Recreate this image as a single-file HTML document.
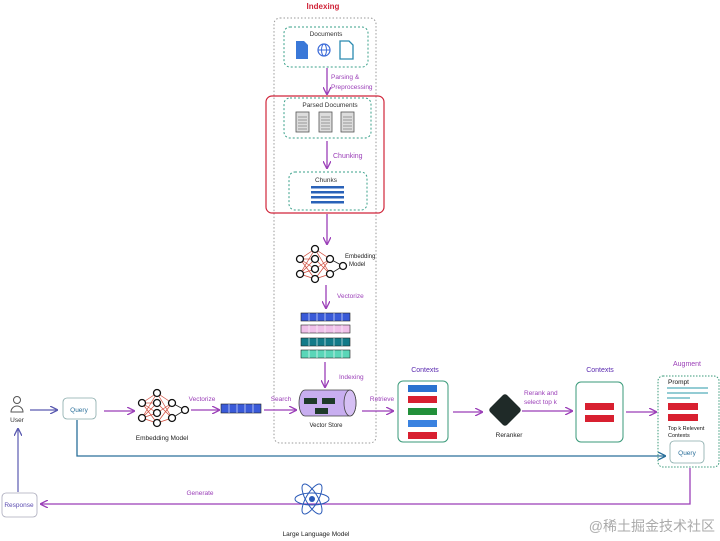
<!DOCTYPE html>
<html><head><meta charset="utf-8"><style>
html,body{margin:0;padding:0;background:#fff;width:720px;height:541px;overflow:hidden}
text{font-family:"Liberation Sans","Noto Sans CJK SC",sans-serif}
</style></head><body>
<svg width="720" height="541" viewBox="0 0 720 541" xmlns="http://www.w3.org/2000/svg">
<defs>
<marker id="ap" markerWidth="8" markerHeight="8" refX="7" refY="4" orient="auto" markerUnits="userSpaceOnUse"><path d="M0,0 L8,4 L0,8" fill="none" stroke="#9b3fb8" stroke-width="1.3"/></marker>
<marker id="ab" markerWidth="8" markerHeight="8" refX="7" refY="4" orient="auto" markerUnits="userSpaceOnUse"><path d="M0,0 L8,4 L0,8" fill="none" stroke="#2a6f9a" stroke-width="1.3"/></marker>
<marker id="au" markerWidth="8" markerHeight="8" refX="7" refY="4" orient="auto" markerUnits="userSpaceOnUse"><path d="M0,0 L8,4 L0,8" fill="none" stroke="#5a5ab0" stroke-width="1.3"/></marker>
<g id="net">
<g stroke="#d04a3a" stroke-width="0.7">
<line x1="0" y1="10" x2="15" y2="0"/><line x1="0" y1="10" x2="15" y2="10"/><line x1="0" y1="10" x2="15" y2="20"/><line x1="0" y1="10" x2="15" y2="30"/>
<line x1="0" y1="25" x2="15" y2="0"/><line x1="0" y1="25" x2="15" y2="10"/><line x1="0" y1="25" x2="15" y2="20"/><line x1="0" y1="25" x2="15" y2="30"/>
<line x1="15" y1="0" x2="30" y2="10"/><line x1="15" y1="10" x2="30" y2="25"/><line x1="15" y1="20" x2="30" y2="10"/><line x1="15" y1="30" x2="30" y2="25"/><line x1="15" y1="0" x2="30" y2="25"/><line x1="15" y1="30" x2="30" y2="10"/>
</g>
<g stroke="#222" stroke-width="0.8"><line x1="30" y1="10" x2="43" y2="17"/><line x1="30" y1="25" x2="43" y2="17"/></g>
<g fill="#fff" stroke="#111" stroke-width="1.3">
<circle cx="0" cy="10" r="3.5"/><circle cx="0" cy="25" r="3.5"/>
<circle cx="15" cy="0" r="3.5"/><circle cx="15" cy="10" r="3.5"/><circle cx="15" cy="20" r="3.5"/><circle cx="15" cy="30" r="3.5"/>
<circle cx="30" cy="10" r="3.5"/><circle cx="30" cy="25" r="3.5"/><circle cx="43" cy="17" r="3.5"/></g>
</g>
</defs>

<text x="323" y="9" font-size="8" fill="#d0253a" text-anchor="middle" font-weight="bold">Indexing</text>
<rect x="274" y="18" width="102" height="425" rx="6" fill="none" stroke="#999" stroke-dasharray="1.5,2"/>

<rect x="284" y="27" width="84" height="40" rx="6" fill="none" stroke="#3aa08a" stroke-dasharray="2,2"/>
<text x="326" y="36" font-size="6.5" fill="#333" text-anchor="middle">Documents</text>
<path d="M296,41 h8 l4,4 v14 h-12z" fill="#3a78d8"/>
<circle cx="324" cy="50" r="6" fill="none" stroke="#3a6ad8" stroke-width="1.2"/>
<line x1="318" y1="50" x2="330" y2="50" stroke="#3a6ad8"/><ellipse cx="324" cy="50" rx="2.5" ry="6" fill="none" stroke="#3a6ad8"/>
<path d="M340,41 h9 l4,4 v14 h-13z" fill="none" stroke="#2a8ab0" stroke-width="1.3"/>

<line x1="327" y1="68" x2="327" y2="94" stroke="#9b3fb8" stroke-width="1.3" marker-end="url(#ap)"/>
<text x="331" y="79" font-size="6.5" fill="#9b3fb8">Parsing &amp;</text>
<text x="331" y="89" font-size="6.5" fill="#9b3fb8">Preprocessing</text>

<rect x="266" y="96" width="118" height="117" rx="6" fill="none" stroke="#d0253a" stroke-width="1.2"/>
<rect x="284" y="98" width="87" height="40" rx="6" fill="none" stroke="#3aa08a" stroke-dasharray="2,2"/>
<text x="330" y="107" font-size="6.5" fill="#333" text-anchor="middle">Parsed Documents</text>
<g fill="#ddd" stroke="#555" stroke-width="0.8">
<rect x="296" y="112" width="13" height="20"/><rect x="319" y="112" width="13" height="20"/><rect x="341" y="112" width="13" height="20"/></g>
<g stroke="#555" stroke-width="0.6">
<path d="M298,117h9M298,120h9M298,123h9M298,126h9M298,129h9"/>
<path d="M321,117h9M321,120h9M321,123h9M321,126h9M321,129h9"/>
<path d="M343,117h9M343,120h9M343,123h9M343,126h9M343,129h9"/></g>

<line x1="327" y1="141" x2="327" y2="168" stroke="#9b3fb8" stroke-width="1.3" marker-end="url(#ap)"/>
<text x="333" y="158" font-size="7" fill="#9b3fb8">Chunking</text>

<rect x="289" y="172" width="78" height="38" rx="6" fill="none" stroke="#3aa08a" stroke-dasharray="2,2"/>
<text x="326" y="182" font-size="6.5" fill="#333" text-anchor="middle">Chunks</text>
<g fill="#2a62b8"><rect x="311" y="186" width="33" height="2.5"/><rect x="311" y="191" width="33" height="2.5"/><rect x="311" y="196" width="33" height="2.5"/><rect x="311" y="201" width="33" height="2.5"/></g>

<line x1="327" y1="214" x2="327" y2="244" stroke="#9b3fb8" stroke-width="1.3" marker-end="url(#ap)"/>
<use href="#net" x="300" y="249"/>
<text x="345" y="258" font-size="6" fill="#222">Embedding</text>
<text x="349" y="266" font-size="6" fill="#222">Model</text>

<line x1="326" y1="285" x2="326" y2="308" stroke="#9b3fb8" stroke-width="1.3" marker-end="url(#ap)"/>
<text x="337" y="298" font-size="6.5" fill="#9b3fb8">Vectorize</text>

<g stroke="#222" stroke-width="0.6">
<rect x="301" y="313" width="49" height="8" fill="#3a5ad8"/>
<rect x="301" y="325" width="49" height="8" fill="#f0c0ea"/>
<rect x="301" y="338" width="49" height="8" fill="#137a88"/>
<rect x="301" y="350" width="49" height="8" fill="#5ad6b8"/>
<path d="M309,313v8M317,313v8M325,313v8M334,313v8M342,313v8M309,325v8M317,325v8M325,325v8M334,325v8M342,325v8M309,338v8M317,338v8M325,338v8M334,338v8M342,338v8M309,350v8M317,350v8M325,350v8M334,350v8M342,350v8" stroke="#fff"/>
</g>

<line x1="325" y1="362" x2="325" y2="387" stroke="#9b3fb8" stroke-width="1.3" marker-end="url(#ap)"/>
<text x="339" y="379" font-size="6.5" fill="#9b3fb8">Indexing</text>

<path d="M305,390 h45 a6,13 0 0 1 0,26 h-45 a6,13 0 0 1 0,-26z" fill="#c8aef0" stroke="#444" stroke-width="0.8"/>
<ellipse cx="350" cy="403" rx="6" ry="13" fill="#d6c0f4" stroke="#444" stroke-width="0.8"/>
<rect x="304" y="398" width="13" height="6" fill="#1e3a2a"/><rect x="322" y="398" width="13" height="6" fill="#1e3a2a"/><rect x="315" y="408" width="13" height="6" fill="#1e3a2a"/>
<text x="326" y="427" font-size="6" fill="#222" text-anchor="middle">Vector Store</text>

<!-- bottom flow -->
<circle cx="17" cy="400" r="3.5" fill="#fff" stroke="#555"/>
<path d="M11,412 a6,6 0 0 1 12,0z" fill="#fff" stroke="#555"/>
<text x="17" y="422" font-size="6.5" fill="#333" text-anchor="middle">User</text>
<line x1="30" y1="410" x2="57" y2="410" stroke="#5a5ab0" stroke-width="1.2" marker-end="url(#au)"/>
<rect x="63" y="398" width="33" height="21" rx="4" fill="#fff" stroke="#8aa" stroke-width="0.8"/>
<text x="79" y="412" font-size="6.5" fill="#2a6f9a" text-anchor="middle">Query</text>
<line x1="104" y1="411" x2="134" y2="411" stroke="#9b3fb8" stroke-width="1.2" marker-end="url(#ap)"/>
<use href="#net" x="142" y="393"/>
<text x="162" y="440" font-size="6.5" fill="#222" text-anchor="middle">Embedding Model</text>
<text x="202" y="401" font-size="6.5" fill="#9b3fb8" text-anchor="middle">Vectorize</text>
<line x1="191" y1="410" x2="219" y2="410" stroke="#9b3fb8" stroke-width="1.2" marker-end="url(#ap)"/>
<rect x="221" y="404" width="40" height="9" fill="#3a5ad8" stroke="#222" stroke-width="0.6"/>
<path d="M229,404v9M237,404v9M245,404v9M253,404v9" stroke="#fff" stroke-width="0.6"/>
<text x="281" y="401" font-size="6.5" fill="#9b3fb8" text-anchor="middle">Search</text>
<line x1="264" y1="410" x2="296" y2="410" stroke="#9b3fb8" stroke-width="1.2" marker-end="url(#ap)"/>
<text x="382" y="401" font-size="6.5" fill="#9b3fb8" text-anchor="middle">Retrieve</text>
<line x1="362" y1="411" x2="393" y2="411" stroke="#9b3fb8" stroke-width="1.2" marker-end="url(#ap)"/>

<text x="425" y="372" font-size="7" fill="#5a2ab0" text-anchor="middle">Contexts</text>
<rect x="398" y="381" width="50" height="61" rx="5" fill="#fff" stroke="#3a9a7a" stroke-width="1"/>
<rect x="408" y="385" width="29" height="7" fill="#2a72d0"/>
<rect x="408" y="396" width="29" height="7" fill="#d82030"/>
<rect x="408" y="408" width="29" height="7" fill="#22903a"/>
<rect x="408" y="420" width="29" height="7" fill="#3a82e0"/>
<rect x="408" y="432" width="29" height="7" fill="#d82030"/>

<line x1="453" y1="412" x2="482" y2="412" stroke="#9b3fb8" stroke-width="1.2" marker-end="url(#ap)"/>
<rect x="493" y="398" width="24" height="24" rx="3" fill="#1f2a28" transform="rotate(45 505 410)"/>
<text x="509" y="437" font-size="6.5" fill="#222" text-anchor="middle">Reranker</text>
<text x="524" y="395" font-size="6.5" fill="#9b3fb8">Rerank and</text>
<text x="524" y="404" font-size="6.5" fill="#9b3fb8">select top k</text>
<line x1="522" y1="411" x2="572" y2="411" stroke="#9b3fb8" stroke-width="1.2" marker-end="url(#ap)"/>

<text x="600" y="372" font-size="7" fill="#5a2ab0" text-anchor="middle">Contexts</text>
<rect x="576" y="382" width="47" height="60" rx="5" fill="#fff" stroke="#3a9a7a" stroke-width="1"/>
<rect x="585" y="403" width="29" height="7" fill="#d82030"/>
<rect x="585" y="415" width="29" height="7" fill="#d82030"/>
<line x1="626" y1="412" x2="656" y2="412" stroke="#9b3fb8" stroke-width="1.2" marker-end="url(#ap)"/>

<text x="687" y="366" font-size="7" fill="#9b3fb8" text-anchor="middle">Augment</text>
<rect x="658" y="376" width="61" height="91" rx="5" fill="none" stroke="#3a9a7a" stroke-dasharray="1.5,1.5"/>
<text x="668" y="384" font-size="6.5" fill="#111">Prompt</text>
<path d="M667,388h41M667,393h41M667,398h23" stroke="#2a9aaa" stroke-width="1"/>
<rect x="668" y="403" width="30" height="7" fill="#d82030"/>
<rect x="668" y="414" width="30" height="7" fill="#d82030"/>
<text x="668" y="430" font-size="5.5" fill="#111">Top k Relevent</text>
<text x="668" y="437" font-size="5.5" fill="#111">Contexts</text>
<rect x="670" y="441" width="34" height="22" rx="4" fill="#fff" stroke="#8aa" stroke-width="0.8"/>
<text x="687" y="455" font-size="6.5" fill="#2a6f9a" text-anchor="middle">Query</text>

<path d="M77,420 V456 H665" fill="none" stroke="#2a6f9a" stroke-width="1.3" marker-end="url(#ab)"/>
<path d="M690,468 V504 H41" fill="none" stroke="#9b3fb8" stroke-width="1.3" marker-end="url(#ap)"/>
<text x="200" y="495" font-size="6.5" fill="#9b3fb8" text-anchor="middle">Generate</text>
<rect x="2" y="493" width="35" height="24" rx="4" fill="#fff" stroke="#aab" stroke-width="0.8"/>
<text x="19" y="507" font-size="6.5" fill="#5a4ab0" text-anchor="middle">Response</text>
<line x1="18" y1="492" x2="18" y2="429" stroke="#5a5ab0" stroke-width="1.2" marker-end="url(#au)"/>

<g fill="none" stroke="#2a5ab8" stroke-width="1">
<ellipse cx="312" cy="499" rx="17" ry="6"/>
<ellipse cx="312" cy="499" rx="17" ry="6" transform="rotate(60 312 499)"/>
<ellipse cx="312" cy="499" rx="17" ry="6" transform="rotate(-60 312 499)"/></g>
<circle cx="312" cy="499" r="3" fill="#2a5ab8"/>
<text x="316" y="536" font-size="6.5" fill="#222" text-anchor="middle">Large Language Model</text>

<text x="715" y="531" font-size="14" fill="#aaa" text-anchor="end">@稀土掘金技术社区</text>
</svg>
</body></html>
